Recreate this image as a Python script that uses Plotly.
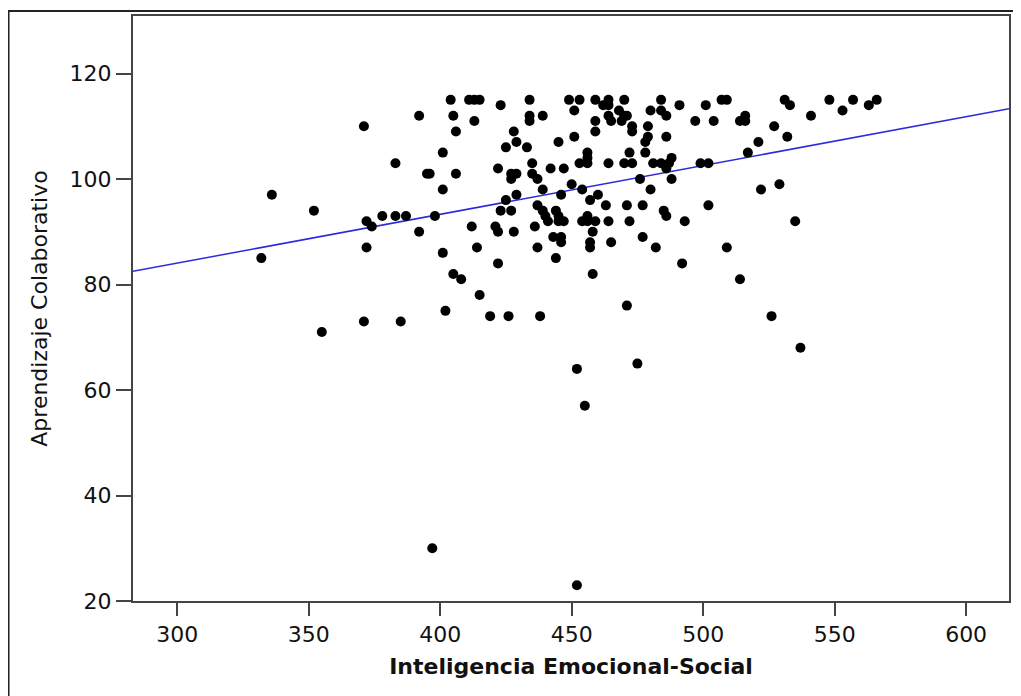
import plotly.graph_objects as go

# Scatter data (Inteligencia Emocional-Social vs Aprendizaje Colaborativo)
ies = [
    332, 336, 352, 355, 371, 372, 374, 378, 383, 387, 392, 383, 395, 392, 372, 371, 385,
    404, 411, 413, 415, 434, 449, 453, 459, 464, 470, 484,
    423, 462, 464, 491,
    451, 468, 480, 484,
    405, 434, 439, 464, 470, 471, 486,
    413, 434, 459, 465, 469, 497,
    473, 479,
    406, 428, 459, 473,
    451, 479, 486,
    429, 445, 478,
    425, 433,
    401, 456, 472, 478,
    456, 488,
    435, 453, 456, 464, 470, 473, 481, 484, 487,
    422, 442, 447, 486,
    396, 406, 427, 429, 435,
    427, 437, 476, 488,
    450,
    401, 439, 454, 480,
    429, 446, 460,
    425, 457,
    437, 463, 471, 477,
    423, 427, 439, 444, 485,
    398, 440, 445, 456, 486,
    441, 445, 447, 454, 456, 459, 464, 472, 493,
    412, 421, 436,
    422, 428, 458,
    443, 446, 477,
    446, 457, 465,
    414, 437, 457, 482,
    401, 444, 422, 492, 405, 458, 408, 415, 471, 402,
    419, 426, 438, 475, 452, 455, 397, 452,
    501, 507, 509, 504, 514, 516, 516, 531, 533, 541, 548, 553, 557, 563, 566,
    527, 521, 532, 517, 499, 502, 522, 529, 502, 535, 509, 514, 526, 537,
]
ac = [
    85, 97, 94, 71, 110, 92, 91, 93, 93, 93, 112, 103, 101, 90, 87, 73, 73,
    115, 115, 115, 115, 115, 115, 115, 115, 115, 115, 115,
    114, 114, 114, 114,
    113, 113, 113, 113,
    112, 112, 112, 112, 112, 112, 112,
    111, 111, 111, 111, 111, 111,
    110, 110,
    109, 109, 109, 109,
    108, 108, 108,
    107, 107, 107,
    106, 106,
    105, 105, 105, 105,
    104, 104,
    103, 103, 103, 103, 103, 103, 103, 103, 103,
    102, 102, 102, 102,
    101, 101, 101, 101, 101,
    100, 100, 100, 100,
    99,
    98, 98, 98, 98,
    97, 97, 97,
    96, 96,
    95, 95, 95, 95,
    94, 94, 94, 94, 94,
    93, 93, 93, 93, 93,
    92, 92, 92, 92, 92, 92, 92, 92, 92,
    91, 91, 91,
    90, 90, 90,
    89, 89, 89,
    88, 88, 88,
    87, 87, 87, 87,
    86, 85, 84, 84, 82, 82, 81, 78, 76, 75,
    74, 74, 74, 65, 64, 57, 30, 23,
    114, 115, 115, 111, 111, 112, 111, 115, 114, 112, 115, 113, 115, 114, 115,
    110, 107, 108, 105, 103, 103, 98, 99, 95, 92, 87, 81, 74, 68,
]

# Linear fit line
fit_intercept = 56.3
fit_slope = 0.0925

x_range = [283.2, 616.3]
y_range = [20, 130.9]
x_ticks = [300, 350, 400, 450, 500, 550, 600]
y_ticks = [20, 40, 60, 80, 100, 120]

fit_x = x_range
fit_y = [fit_intercept + fit_slope * v for v in fit_x]

FONT = "DejaVu Sans, Verdana, sans-serif"

fig = go.Figure()
fig.add_trace(go.Scatter(
    x=fit_x, y=fit_y, mode="lines",
    line=dict(color="#2b2bdc", width=1.5),
    hoverinfo="skip", showlegend=False,
))
fig.add_trace(go.Scatter(
    x=ies, y=ac, mode="markers",
    marker=dict(color="black", size=10, line=dict(width=0)),
    showlegend=False,
))

axis_font = dict(family=FONT, size=22, color="#111111")

fig.update_layout(
    width=1013, height=688,
    margin=dict(l=125, r=12, t=6, b=95),
    paper_bgcolor="white", plot_bgcolor="white",
    font=dict(family=FONT, color="#111111"),
    xaxis=dict(
        range=x_range, tickvals=x_ticks, showgrid=False, zeroline=False,
        showline=True, linecolor="#444444", linewidth=2, mirror=True,
        ticks="outside", ticklen=13, tickwidth=2, tickcolor="#444444",
        tickfont=axis_font,
        title=dict(text="<b>Inteligencia Emocional-Social</b>",
                   font=dict(family=FONT, size=22, color="#111111"),
                   standoff=12),
    ),
    yaxis=dict(
        range=y_range, tickvals=y_ticks, showgrid=False, zeroline=False,
        showline=True, linecolor="#444444", linewidth=2, mirror=True,
        ticks="outside", ticklen=15, tickwidth=2, tickcolor="#444444",
        tickfont=axis_font,
        title=dict(text="Aprendizaje Colaborativo",
                   font=dict(family=FONT, size=22, color="#111111"),
                   standoff=16),
    ),
    shapes=[dict(
        type="rect", xref="paper", yref="paper",
        x0=-0.1421, x1=1.008, y0=-0.2, y1=1.0085,
        line=dict(color="#222222", width=2), layer="below",
    )],
)

fig.write_html("out.html")
